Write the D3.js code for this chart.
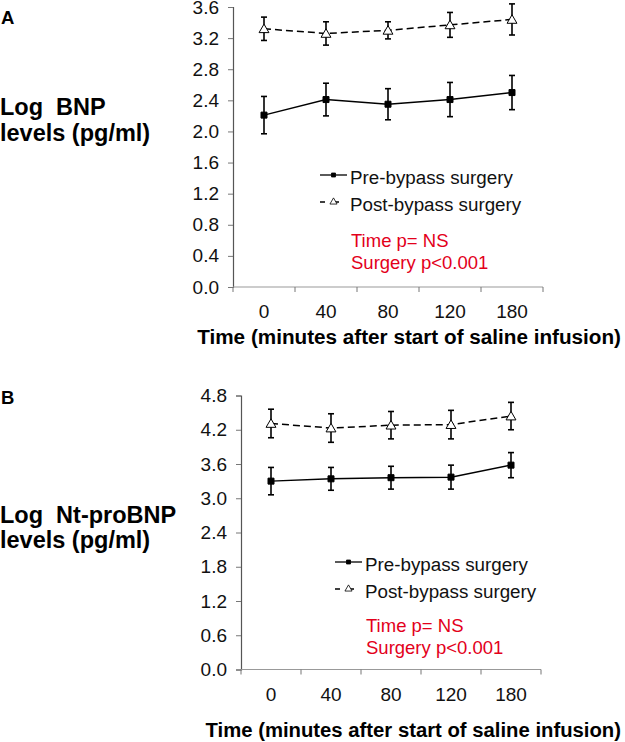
<!DOCTYPE html>
<html><head><meta charset="utf-8">
<script src="https://cdn.jsdelivr.net/npm/d3@7/dist/d3.min.js"></script>
<style>
html,body{margin:0;padding:0;background:#fff;}
svg{display:block;font-family:"Liberation Sans",Arial,sans-serif;}
</style></head>
<body>
<svg id="chart" width="625" height="742"></svg>
<script>
// ---- data ----
const times = ["0", "40", "80", "120", "180"];
const bnpPre = [2.21, 2.41, 2.35, 2.41, 2.50];
const bnpPreErr = [0.24, 0.21, 0.20, 0.22, 0.22];
const bnpPost = [3.32, 3.26, 3.30, 3.37, 3.44];
const bnpPostErr = [0.15, 0.15, 0.11, 0.16, 0.20];
const ntPre = [3.30, 3.34, 3.36, 3.37, 3.58];
const ntPreErr = [0.24, 0.20, 0.20, 0.21, 0.22];
const ntPost = [4.31, 4.23, 4.28, 4.29, 4.44];
const ntPostErr = [0.25, 0.25, 0.24, 0.25, 0.24];
const bnpTicks = [0.0, 0.4, 0.8, 1.2, 1.6, 2.0, 2.4, 2.8, 3.2, 3.6];
const ntTicks = [0.0, 0.6, 1.2, 1.8, 2.4, 3.0, 3.6, 4.2, 4.8];
const seriesNames = ["Pre-bypass surgery", "Post-bypass surgery"];
const statLines = ["Time p= NS", "Surgery p<0.001"];
const xTitle = "Time (minutes after start of saline infusion)";

const svg = d3.select("#chart");
const RED = "#e3001b";

function panel(o) {
  const g = svg.append("g");
  const x = d3.scaleBand().domain(times).range([o.x0, o.x1]).padding(0);
  const y = d3.scaleLinear().domain([0, o.yMax]).range([o.yBottom, o.yTop]);

  // y axis
  const ya = g.append("g").attr("transform", `translate(${o.x0},0)`)
    .call(d3.axisLeft(y).tickValues(o.ticks).tickFormat(d3.format(".1f")).tickSizeOuter(0).tickSize(5).tickPadding(9));
  ya.select(".domain").attr("stroke", "#555").attr("stroke-width", 1.2);
  ya.selectAll(".tick line").attr("stroke", "#777");
  ya.selectAll(".tick text").attr("font-size", 19).attr("fill", "#111")
    .attr("font-family", "Liberation Sans, Arial, sans-serif");

  // x axis (category, ticks between categories)
  const xa = g.append("g");
  xa.append("line").attr("x1", o.x0).attr("x2", o.x1).attr("y1", o.yBottom).attr("y2", o.yBottom)
    .attr("stroke", "#999").attr("stroke-width", 1.2);
  const edges = times.map(t => x(t)).concat([x.range()[1]]);
  xa.selectAll("line.tk").data(edges).join("line").attr("class", "tk")
    .attr("x1", d => d).attr("x2", d => d).attr("y1", o.yBottom).attr("y2", o.yBottom + 5)
    .attr("stroke", "#777");
  xa.selectAll("text").data(times).join("text")
    .attr("x", d => x(d) + x.bandwidth() / 2).attr("y", o.yBottom + 31)
    .attr("text-anchor", "middle").attr("font-size", 19).attr("fill", "#111").text(d => d);

  const cx = t => x(t) + x.bandwidth() / 2;
  const series = [
    {v: o.post, e: o.postErr, dash: "7,4", sym: d3.symbolTriangle, fill: "#fff", size: 42},
    {v: o.pre, e: o.preErr, dash: null, sym: d3.symbolSquare, fill: "#000", size: 36}
  ];
  series.forEach(s => {
    const pts = times.map((t, i) => ({t, v: s.v[i], e: s.e[i]}));
    g.append("path").datum(pts)
      .attr("d", d3.line().x(d => cx(d.t)).y(d => y(d.v)))
      .attr("fill", "none").attr("stroke", "#000").attr("stroke-width", 1.5)
      .attr("stroke-dasharray", s.dash);
    const eb = g.append("g").selectAll("g").data(pts).join("g");
    eb.append("line").attr("x1", d => cx(d.t)).attr("x2", d => cx(d.t))
      .attr("y1", d => y(d.v - d.e)).attr("y2", d => y(d.v + d.e))
      .attr("stroke", "#000").attr("stroke-width", 1.6);
    eb.append("line").attr("x1", d => cx(d.t) - 3).attr("x2", d => cx(d.t) + 3)
      .attr("y1", d => y(d.v + d.e)).attr("y2", d => y(d.v + d.e)).attr("stroke", "#000").attr("stroke-width", 1.6);
    eb.append("line").attr("x1", d => cx(d.t) - 3).attr("x2", d => cx(d.t) + 3)
      .attr("y1", d => y(d.v - d.e)).attr("y2", d => y(d.v - d.e)).attr("stroke", "#000").attr("stroke-width", 1.6);
    eb.append("path").attr("d", d3.symbol().type(s.sym).size(s.size))
      .attr("transform", d => `translate(${cx(d.t)},${y(d.v) + (s.sym === d3.symbolTriangle ? 1 : 0)})`)
      .attr("fill", s.fill).attr("stroke", "#000").attr("stroke-width", 1);
  });

  // legend
  const lg = g.append("g");
  const legRows = [
    {name: seriesNames[0], ly: o.legY[0], by: o.legY[0] + 9, dash: null, sym: d3.symbolSquare, fill: "#000", size: 16},
    {name: seriesNames[1], ly: o.legY[1], by: o.legY[1] + 9, dash: "5,9", sym: d3.symbolTriangle, fill: "#fff", size: 22}
  ];
  legRows.forEach(r => {
    lg.append("line").attr("x1", o.legX).attr("x2", o.legX + 27).attr("y1", r.ly).attr("y2", r.ly)
      .attr("stroke", "#000").attr("stroke-width", 1.3).attr("stroke-dasharray", r.dash);
    lg.append("path").attr("d", d3.symbol().type(r.sym).size(r.size))
      .attr("transform", `translate(${o.legX + 13.5},${r.ly})`)
      .attr("fill", r.fill).attr("stroke", "#000").attr("stroke-width", 0.8);
    lg.append("text").attr("x", o.legX + 30).attr("y", r.by).attr("font-size", 18.8).attr("fill", "#111").text(r.name);
  });
  statLines.forEach((s, i) => {
    g.append("text").attr("x", o.statX).attr("y", o.statY[i]).attr("font-size", 18.5).attr("fill", RED).text(s);
  });

  // titles
  g.append("text").attr("x", 621).attr("y", o.xTitleY).attr("text-anchor", "end")
    .attr("font-size", o.xTitleSize).attr("font-weight", "bold").attr("fill", "#000").text(xTitle);
  o.yLabel.forEach((s, i) => {
    g.append("text").attr("x", 0).attr("y", o.yLabelY[i]).attr("font-size", 23.5).attr("font-weight", "bold")
      .attr("fill", "#000").style("white-space", "pre").attr("xml:space", "preserve").text(s);
  });
  g.append("text").attr("x", 1).attr("y", o.letterY).attr("font-size", 18.5).attr("font-weight", "bold").text(o.letter);
}

panel({
  x0: 233, x1: 543, yTop: 7, yBottom: 287, yMax: 3.6, ticks: bnpTicks,
  pre: bnpPre, preErr: bnpPreErr, post: bnpPost, postErr: bnpPostErr,
  legX: 320, legY: [175, 202], statX: 351, statY: [246.5, 268.5],
  xTitleY: 343.5, xTitleSize: 20.7,
  yLabel: ["Log  BNP", "levels (pg/ml)"], yLabelY: [115, 141],
  letter: "A", letterY: 24
});
panel({
  x0: 241, x1: 541, yTop: 395.5, yBottom: 669.5, yMax: 4.8, ticks: ntTicks,
  pre: ntPre, preErr: ntPreErr, post: ntPost, postErr: ntPostErr,
  legX: 335, legY: [562, 589], statX: 366, statY: [631.5, 653.5],
  xTitleY: 736.5, xTitleSize: 20.3,
  yLabel: ["Log  Nt-proBNP", "levels (pg/ml)"], yLabelY: [523, 548],
  letter: "B", letterY: 403.5
});
</script>
</body></html>
